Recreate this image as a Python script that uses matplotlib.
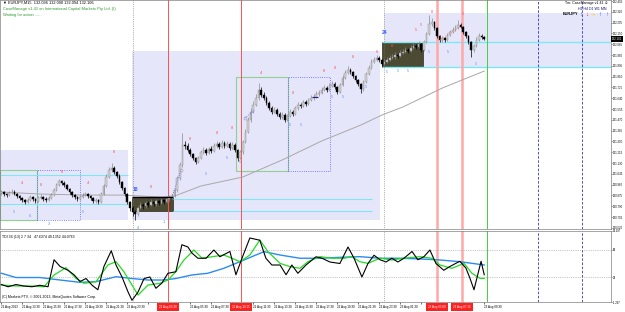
import matplotlib
matplotlib.use("Agg")
import matplotlib.pyplot as plt
from matplotlib.patches import Rectangle
import numpy as np

plt.rcParams['font.family'] = ['Liberation Sans', 'DejaVu Sans']

# EURJPY M15 candles (open = previous close)
first_open = 130.894
closes = [130.902, 130.886, 130.878, 130.894, 130.902, 130.886, 130.870, 130.855, 130.839, 130.823,
          130.839, 130.863, 130.847, 130.831, 130.855, 130.863, 130.847, 130.839, 130.855, 130.878,
          130.918, 130.957, 130.989, 130.973, 130.957, 130.926, 130.902, 130.878, 130.863, 130.847,
          130.863, 130.878, 130.886, 130.870, 130.855, 130.831, 130.839, 130.823, 130.886, 130.949,
          131.020, 131.075, 131.091, 131.059, 131.028, 130.981, 130.933, 130.886, 130.823, 130.776,
          130.745, 130.729, 130.776, 130.800, 130.792, 130.815, 130.800, 130.823, 130.808, 130.831,
          130.815, 130.839, 130.823, 130.847, 130.863, 130.870, 130.918, 131.012, 131.114, 131.272,
          131.264, 131.232, 131.201, 131.170, 131.138, 131.170, 131.217, 131.232, 131.209, 131.240,
          131.225, 131.264, 131.280, 131.256, 131.288, 131.264, 131.280, 131.248, 131.272, 131.232,
          131.170, 131.217, 131.295, 131.374, 131.469, 131.532, 131.587, 131.642, 131.705, 131.665,
          131.642, 131.602, 131.563, 131.532, 131.547, 131.516, 131.492, 131.508, 131.469, 131.500,
          131.532, 131.516, 131.563, 131.587, 131.579, 131.610, 131.595, 131.626, 131.642, 131.650,
          131.673, 131.681, 131.705, 131.720, 131.705, 131.736, 131.752, 131.728, 131.689, 131.744,
          131.799, 131.838, 131.862, 131.846, 131.815, 131.783, 131.752, 131.713, 131.768, 131.831,
          131.878, 131.925, 131.941, 131.957, 131.941, 131.909, 131.925, 131.941, 131.957, 131.964,
          131.980, 131.972, 131.996, 132.004, 132.019, 132.012, 132.035, 132.051, 132.043, 132.067,
          132.019, 132.082, 132.145, 132.224, 132.240, 132.193, 132.130, 132.098, 132.114, 132.098,
          132.138, 132.161, 132.177, 132.193, 132.216, 132.201, 132.161, 132.130, 132.082, 132.019,
          132.051, 132.098, 132.130, 132.122, 132.106]
highs = [130.918, 130.912, 130.898, 130.910, 130.925, 130.915, 130.895, 130.880, 130.862, 130.848,
         130.852, 130.880, 130.874, 130.858, 130.870, 130.885, 130.872, 130.860, 130.870, 130.895,
         130.935, 130.975, 131.005, 131.000, 130.985, 130.965, 130.935, 130.912, 130.890, 130.872,
         130.880, 130.895, 130.905, 130.895, 130.880, 130.862, 130.855, 130.850, 130.900, 130.968,
         131.040, 131.100, 131.130, 131.105, 131.070, 131.040, 130.990, 130.945, 130.895, 130.832,
         130.790, 130.760, 130.790, 130.825, 130.818, 130.835, 130.830, 130.845, 130.835, 130.850,
         130.842, 130.855, 130.850, 130.865, 130.880, 130.890, 130.935, 131.030, 131.135, 131.366,
         131.300, 131.285, 131.245, 131.212, 131.180, 131.188, 131.235, 131.255, 131.245, 131.258,
         131.262, 131.285, 131.305, 131.295, 131.310, 131.300, 131.302, 131.292, 131.295, 131.285,
         131.240, 131.235, 131.315, 131.395, 131.490, 131.560, 131.615, 131.675, 131.760, 131.730,
         131.690, 131.655, 131.615, 131.575, 131.568, 131.560, 131.530, 131.528, 131.520, 131.518,
         131.552, 131.545, 131.580, 131.610, 131.605, 131.630, 131.625, 131.645, 131.665, 131.675,
         131.695, 131.705, 131.728, 131.745, 131.735, 131.760, 131.778, 131.765, 131.740, 131.762,
         131.820, 131.862, 131.890, 131.880, 131.858, 131.825, 131.795, 131.762, 131.785, 131.850,
         131.900, 131.948, 131.965, 131.980, 131.972, 131.950, 131.945, 131.962, 131.978, 131.988,
         132.002, 131.995, 132.018, 132.028, 132.042, 132.038, 132.058, 132.075, 132.070, 132.090,
         132.078, 132.100, 132.165, 132.295, 132.275, 132.250, 132.200, 132.140, 132.130, 132.125,
         132.155, 132.180, 132.200, 132.215, 132.256, 132.235, 132.210, 132.170, 132.140, 132.090,
         132.068, 132.118, 132.150, 132.145, 132.130]
lows = [130.880, 130.874, 130.862, 130.870, 130.886, 130.875, 130.858, 130.840, 130.826, 130.810,
        130.815, 130.830, 130.835, 130.818, 130.822, 130.845, 130.834, 130.825, 130.830, 130.848,
        130.870, 130.910, 130.948, 130.960, 130.945, 130.915, 130.890, 130.865, 130.850, 130.832,
        130.838, 130.855, 130.868, 130.858, 130.842, 130.815, 130.818, 130.808, 130.815, 130.878,
        130.940, 131.010, 131.060, 131.045, 131.015, 130.968, 130.920, 130.872, 130.808, 130.755,
        130.710, 130.682, 130.715, 130.765, 130.770, 130.780, 130.785, 130.790, 130.790, 130.795,
        130.798, 130.805, 130.805, 130.812, 130.835, 130.850, 130.860, 130.905, 131.000, 131.100,
        131.240, 131.215, 131.185, 131.155, 131.120, 131.128, 131.160, 131.205, 131.195, 131.200,
        131.210, 131.215, 131.252, 131.240, 131.245, 131.250, 131.255, 131.235, 131.238, 131.220,
        131.150, 131.160, 131.205, 131.285, 131.365, 131.455, 131.520, 131.575, 131.630, 131.650,
        131.625, 131.585, 131.545, 131.515, 131.520, 131.500, 131.478, 131.480, 131.455, 131.460,
        131.490, 131.500, 131.505, 131.550, 131.565, 131.570, 131.580, 131.585, 131.615, 131.630,
        131.640, 131.660, 131.672, 131.695, 131.690, 131.698, 131.725, 131.715, 131.672, 131.680,
        131.735, 131.790, 131.828, 131.830, 131.800, 131.770, 131.738, 131.681, 131.700, 131.760,
        131.822, 131.868, 131.915, 131.930, 131.925, 131.895, 131.898, 131.915, 131.930, 131.945,
        131.952, 131.958, 131.962, 131.985, 131.995, 131.998, 132.002, 132.025, 132.030, 132.035,
        132.005, 132.010, 132.075, 132.135, 132.210, 132.180, 132.115, 132.082, 132.085, 132.082,
        132.090, 132.128, 132.150, 132.168, 132.185, 132.190, 132.148, 132.115, 132.065, 131.964,
        132.005, 132.040, 132.088, 132.110, 132.098]
last_price = 132.106

# long moving average (gray)
ma_bars = [0, 15, 31, 46, 61, 66, 76, 92, 107, 122, 137, 145, 153, 168, 184]
ma_vals = [130.902, 130.886, 130.878, 130.878, 130.863, 130.870, 130.949, 131.020, 131.154,
           131.303, 131.429, 131.508, 131.571, 131.720, 131.854]

# TDI sub-window
rsi_bars = [0, 2.6, 5.6, 8.6, 11.7, 14.7, 17.8, 20.1, 22.4, 25.4, 27.7, 30, 32.3, 34.6, 36.8, 39.1,
            41.9, 43.7, 46, 48.3, 49.8, 52.1, 54.4, 56.6, 58.9, 61.2, 63.5, 66.5, 68.8, 71.1, 72.6,
            74.9, 78, 81, 83.3, 87.1, 89.4, 91.7, 94.7, 98.5, 100.8, 103.1, 106.2, 108.5, 110.7, 113,
            116.1, 119.9, 122.2, 125.2, 129, 132.1, 134.4, 137.4, 139.7, 142, 144.3, 146.6, 148.8,
            151.1, 153.4, 156.5, 158.7, 161, 163.3, 165.6, 168.6, 170.9, 174.7, 177, 178.6, 180.1,
            182.8, 184]
rsi_vals = [22, 19, 22, 20, 19, 21, 19, 55, 46, 41, 35, 26, 30, 21, 15, 46, 67, 48, 32, 12, 1, 12,
            30, 32, 17, 24, 37, 39, 75, 72, 64, 57, 57, 68, 59, 66, 35, 57, 84, 81, 57, 48, 48, 35,
            48, 37, 48, 59, 57, 52, 50, 72, 57, 32, 50, 61, 55, 52, 57, 52, 57, 66, 55, 59, 68, 50,
            41, 46, 53, 44, 30, 15, 53, 35]
signal_bars = [0, 5.6, 11.7, 16.3, 20.1, 24.6, 28.5, 31.5, 36.1, 40.6, 43.7, 46.7, 49.8, 52.1, 55.9,
               60.5, 63.5, 66.5, 69.6, 73.4, 76.5, 80.3, 84.8, 87.9, 90.9, 94.7, 98.5, 101.6, 106.2,
               110, 113.8, 116.8, 121.4, 126, 130.6, 133.6, 136.6, 139.7, 144.3, 148.8, 153.4, 159.5,
               164.1, 167.1, 171.7, 176.3, 179.3, 182.4, 184]
signal_vals = [21.3, 20, 20, 19, 34.7, 44.4, 30, 23.6, 25.8, 48, 52.4, 39.1, 21.3, 8, 21.3, 23.6, 28,
               39.1, 54.7, 68, 57, 59, 61.3, 57, 52.4, 61.3, 81.3, 65.8, 50.2, 45.8, 43.6, 52.4, 59.1,
               57, 57, 59.1, 52.4, 50.2, 57, 54.7, 57, 59.1, 57, 48, 43.6, 50.2, 37, 30.2, 30.2]
base_bars = [0, 5.6, 14.7, 22.4, 30, 36.1, 43.7, 49.8, 55.9, 62, 66.5, 72.6, 78.7, 84.8, 90.9, 97,
             100.1, 106.2, 113.8, 121.4, 129, 136.6, 144.3, 151.9, 159.5, 167.1, 174.7, 184]
base_vals = [37, 31.3, 31.3, 28, 24.9, 25.8, 32.4, 30, 28, 28, 30, 34.7, 37, 43.6, 52.4, 61.3, 65.8,
             61.3, 57, 57, 58.2, 59.1, 57, 57, 56.1, 54.7, 52.4, 48]

# swing labels
red_mark_bars = [8, 15, 23, 33, 43, 57, 72, 82, 88, 99, 111, 123, 127, 134, 143, 149, 158, 160, 164, 176]
red_mark_prices = [130.973, 130.957, 131.059, 130.973, 131.217, 130.941, 131.319, 131.366, 131.406,
                   131.838, 131.681, 131.854, 131.878, 131.964, 132.004, 132.051, 132.177, 132.216,
                   132.319, 132.303]
red_mark_text = ["4", "8", "8", "4", "8", "8", "8", "8", "8", "4", "8", "8", "8", "8", "8", "8", "5", "5", "8", "5"]
blue_mark_bars = [5, 11, 18, 31, 52, 62, 78, 86, 91, 110, 114, 126, 130, 139, 147, 151, 155, 163, 170, 181]
blue_mark_prices = [130.745, 130.713, 130.650, 130.745, 130.619, 130.666, 131.044, 131.170, 131.138,
                    131.429, 131.429, 131.650, 131.650, 131.728, 131.846, 131.854, 131.854, 132.004,
                    132.004, 131.909]
blue_mark_text = ["5", "6", "3", "5", "4", "1", "5", "5", "5", "5", "5", "5", "5", "5", "5", "5", "5", "5", "5", "5"]

price_ticks = [132.405, 132.320, 132.235, 132.150, 132.065, 131.980, 131.895, 131.810, 131.725,
               131.640, 131.555, 131.470, 131.385, 131.300, 131.215, 131.130, 131.045, 130.960,
               130.875, 130.790, 130.705, 130.620]
time_ticks = list(range(0, 185, 8))
time_labels = ["21 Aug 2013", "21 Aug 13:30", "21 Aug 15:30", "21 Aug 17:30", "21 Aug 19:30",
               "21 Aug 21:30", "21 Aug 23:30", "22 Aug 01:30", "22 Aug 03:30", "22 Aug 05:30",
               "22 Aug 07:30", "22 Aug 09:30", "22 Aug 11:30", "22 Aug 13:30", "22 Aug 15:30",
               "22 Aug 17:30", "22 Aug 19:30", "22 Aug 21:30", "22 Aug 23:30", "23 Aug 01:30",
               "23 Aug 03:30", "23 Aug 05:30", "23 Aug 07:30", "23 Aug 09:30"]
red_line_bars = [63.5, 91.3]
pink_line_bars = [166, 175.5]
red_line_labels = ["22 Aug 03:30", "22 Aug 10:15", "23 Aug 05:00", "23 Aug 07:15"]
separator_bars = [50, 146]
green_line_bar = 185
blue_line_bars = [204.5, 221.2]

W, H = 625, 312
XMIN, XMAX = -0.495, 232.3
BAR_PX = 2.625


def bar_to_px(b):
    return (b - XMIN) * BAR_PX


fig = plt.figure(figsize=(6.25, 3.12), dpi=100)
ax = fig.add_axes([0, 1 - 229 / H, 611 / W, 229 / H])
ax2 = fig.add_axes([0, 1 - 302 / H, 611 / W, 71 / H])

# zones
zones = [(XMIN, 48.3, 130.682, 131.232), (49.8, 144.3, 130.682, 132.012), (145.8, XMAX, 131.886, 132.311)]
for x0, x1, y0, y1 in zones:
    ax.add_patch(Rectangle((x0, y0), x1 - x0, y1 - y0, fc='#e6e6fa', ec='none', zorder=0))
for x0, x1, y0, y1 in [(49.8, 65.4, 130.752, 130.855), (145.0, 160.6, 131.886, 132.082)]:
    ax.add_patch(Rectangle((x0, y0), x1 - x0, y1 - y0, fc='#4d4a34', ec='#2e2c20', lw=0.5, zorder=1))
for x0, x1, y0, y1 in [(XMIN, 13.6, 130.682, 131.075), (89.4, 109.2, 131.067, 131.807)]:
    ax.add_patch(Rectangle((x0, y0), x1 - x0, y1 - y0, fc='none', ec='#8fd18f', lw=0.8, zorder=2))
for x0, x1, y0, y1 in [(13.6, 30.0, 130.682, 131.075), (109.2, 125.2, 131.067, 131.807)]:
    ax.add_patch(Rectangle((x0, y0), x1 - x0, y1 - y0, fc='none', ec='#5a5aff', lw=0.6, ls=':', zorder=2))

for y in [131.036, 130.808]:
    ax.hlines(y, XMIN, 48.3, color='#7ee8f0', lw=0.8, zorder=2)
for y in [130.847, 130.752]:
    ax.hlines(y, 65.4, 141.2, color='#7ee8f0', lw=0.8, zorder=2)
for y in [132.082, 131.886]:
    ax.hlines(y, 145.0, XMAX, color='#7ee8f0', lw=1.0, zorder=2)
ax.hlines(130.863, 49.8, 65.4, color='black', lw=1.0, zorder=4)
ax.hlines(131.650, 118.4, 120.6, color='#202080', lw=0.8, zorder=4)
ax.plot([65, 68.5], [130.863, 131.075], color='#6060ff', lw=0.6, ls=':', zorder=4)
ax.plot([92.8, 96.6], [131.484, 131.547], color='#6060ff', lw=0.6, ls=':', zorder=4)
ax.plot([167.1, 174.7], [132.098, 132.201], color='#ff7070', lw=0.6, ls=':', zorder=4)
ax.plot([68.5, 92.8], [131.075, 131.484], 'o', ms=2.2, mfc='none', mec='#9a9ab0', mew=0.4, zorder=4)

# vertical lines in both windows
for a in (ax, ax2):
    for b in separator_bars:
        a.axvline(b, color='#707070', lw=0.5, ls=':', zorder=2)
    for b in red_line_bars:
        a.axvline(b, color='#ff5050', lw=0.7, zorder=2)
    for b in pink_line_bars:
        a.axvline(b, color='#ffa8a8', lw=1.8, zorder=2)
    a.axvline(green_line_bar, color='#40d040', lw=0.7, zorder=2)
    for b in blue_line_bars:
        a.axvline(b, color='#3030c0', lw=0.6, ls=(0, (3, 2)), zorder=2)

# moving average
ax.plot(ma_bars, ma_vals, color='#a8a8a8', lw=0.7, zorder=2)

# candles
c = np.array(closes)
o = np.array([first_open] + closes[:-1])
hi = np.array(highs)
lo = np.array(lows)
x = np.arange(len(c))
up = c >= o
body_lo = np.minimum(o, c)
body_h = np.maximum(np.abs(c - o), 0.003)
ax.vlines(x[up], lo[up], hi[up], color='#8a8a8a', lw=0.5, zorder=3)
ax.vlines(x[~up], lo[~up], hi[~up], color='black', lw=0.5, zorder=3)
ax.bar(x[up], body_h[up], bottom=body_lo[up], width=0.62, color='#d4d4d4', edgecolor='#8a8a8a', lw=0.3, zorder=3)
ax.bar(x[~up], body_h[~up], bottom=body_lo[~up], width=0.62, color='black', edgecolor='black', lw=0.3, zorder=3)

for b, p, t in zip(red_mark_bars, red_mark_prices, red_mark_text):
    ax.text(b, p, t, color='#ff4a4a', fontsize=2.8, ha='center', va='center', zorder=5)
for b, p, t in zip(blue_mark_bars, blue_mark_prices, blue_mark_text):
    ax.text(b, p, t, color='#5a8cff', fontsize=2.8, ha='center', va='center', zorder=5)
ax.text(51, 130.918, "18", color='#3a5cff', fontsize=3.6, fontweight='bold', ha='center', va='center', zorder=5)
ax.text(146.2, 132.161, "24", color='#3a5cff', fontsize=3.6, fontweight='bold', ha='center', va='center', zorder=5)

ax.set_xlim(XMIN, XMAX)
ax.set_ylim(130.611, 132.413)
ax.set_xticks([])
ax.yaxis.tick_right()
ax.set_yticks(price_ticks)
ax.set_yticklabels([f"{v:.3f}" for v in price_ticks])
ax.tick_params(axis='y', labelsize=2.0, length=1.0, width=0.4, pad=0.4, colors='black')
ax.text(1.0015, last_price, f"{last_price:.3f}", transform=ax.get_yaxis_transform(), fontsize=2.0,
        color='white', va='center', ha='left', zorder=6,
        bbox=dict(facecolor='black', edgecolor='none', pad=0.4))

# indicator window
ax2.axhline(68, color='#909090', lw=0.5, ls=':')
ax2.axhline(32, color='#909090', lw=0.5, ls=':')
ax2.plot(base_bars, base_vals, color='#2a8cf0', lw=1.0, zorder=3)
ax2.plot(signal_bars, signal_vals, color='#22dd22', lw=0.9, zorder=4)
ax2.plot(rsi_bars, rsi_vals, color='black', lw=0.8, zorder=5)
ax2.set_xlim(XMIN, XMAX)
ax2.set_ylim(-1.3, 93.3)
ax2.yaxis.tick_right()
ax2.set_yticks([93.3, 68, 32, -1.3])
ax2.set_yticklabels(["93.297", "68", "32", "-1.297"])
ax2.tick_params(axis='y', labelsize=2.0, length=1.0, width=0.4, pad=0.4)

# time labels hidden behind the red line labels are left blank
red_all = red_line_bars + pink_line_bars
shown = []
for b, t in zip(time_ticks, time_labels):
    left = bar_to_px(b)
    hidden = any(left - 12 < bar_to_px(r) < left + 29 for r in red_all)
    shown.append("" if hidden else t)
ax2.set_xticks(time_ticks)
ax2.set_xticklabels(shown)
for lbl in ax2.get_xticklabels():
    lbl.set_ha('left')
ax2.tick_params(axis='x', labelsize=2.2, length=1.5, width=0.4, pad=0.8)
ax2.text(0.004, 0.95, "TDI 34 (13) 2 7 34   47.6374 49.1352 44.0763", transform=ax2.transAxes,
         fontsize=2.5, va='top', ha='left')
ax2.text(0.004, 0.04, "(C) Markets FTV, \u00a9 2001-2013, MetaQuotes Software Corp.", transform=ax2.transAxes,
         fontsize=2.5, va='bottom', ha='left')

for a in (ax, ax2):
    for s in a.spines.values():
        s.set_color('#808080')
        s.set_linewidth(0.5)

# red time labels of the vertical lines
for b, t in zip(red_all, red_line_labels):
    fig.text(bar_to_px(b) / W, 1 - 307 / H, t, fontsize=2.2, color='white', ha='center', va='center',
             bbox=dict(facecolor='#ff2020', edgecolor='none', pad=1.4))

# header texts
fig.text(3 / W, 1 - 3 / H, "\u25bc EURJPY,M15  132.096 132.098 132.094 132.106", fontsize=2.8, va='center')
fig.text(3 / W, 1 - 9 / H, "CaseManage v1.41 on International Capital Markets Pty Ltd. (I)", fontsize=2.9,
         color='#2f9a2f', va='center')
fig.text(3 / W, 1 - 15 / H, "Waiting for action ......", fontsize=2.9, color='#2f9a2f', va='center')
fig.text(565 / W, 1 - 3 / H, "Tm: CaseManage v1.41 \u263a", fontsize=2.6, va='center')
fig.text(578 / W, 1 - 8.5 / H, "H1 H4 D1 W1 MN", fontsize=2.6, color='#101070', va='center')
fig.text(563 / W, 1 - 14 / H, "EURJPY", fontsize=2.8, fontweight='bold', va='center')
arrow_x = [581, 587, 593, 600, 607]
arrow_t = ["\u2191", "\u2193", "\u2192", "\u2191", "\u2191"]
arrow_c = ['#1450ff', '#ff2020', '#ffc800', '#1450ff', '#5050ff']
for px, t, col in zip(arrow_x, arrow_t, arrow_c):
    fig.text(px / W, 1 - 14 / H, t, fontsize=4.5, fontweight='bold', color=col, ha='center', va='center')

fig.savefig("out.png", dpi=100, facecolor='white')
